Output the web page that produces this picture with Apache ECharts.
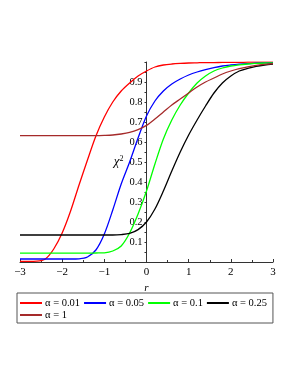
<!DOCTYPE html>
<html>
<head>
<meta charset="utf-8">
<script src="https://cdn.jsdelivr.net/npm/echarts@6/dist/echarts.min.js"></script>
<style>
html,body{margin:0;padding:0;background:#fff;}
#chart{width:298px;height:385px;}
</style>
</head>
<body>
<div id="chart"></div>
<script>
var rValues = [-3.0,-2.8,-2.6,-2.4,-2.2,-2.0,-1.8,-1.6,-1.4,-1.2,-1.0,-0.8,-0.6,-0.4,-0.2,0.0,0.2,0.4,0.6,0.8,1.0,1.2,1.4,1.6,1.8,2.0,2.2,2.4,2.6,2.8,3.0];
var seriesNames = ['α = 0.01','α = 0.05','α = 0.1','α = 0.25','α = 1'];
var seriesColors = ['#ff0000','#0000ff','#00ff00','#000000','#a52a2a'];
var alpha001 = [0.003,0.003,0.004,0.015,0.065,0.145,0.255,0.385,0.51,0.63,0.725,0.80,0.855,0.895,0.93,0.955,0.975,0.985,0.99,0.993,0.995,0.996,0.997,0.997,0.998,0.998,0.998,0.999,0.999,0.999,0.999];
var alpha005 = [0.015,0.015,0.015,0.015,0.015,0.015,0.015,0.016,0.025,0.06,0.14,0.26,0.39,0.50,0.62,0.73,0.805,0.855,0.89,0.915,0.935,0.95,0.962,0.972,0.98,0.985,0.989,0.992,0.994,0.996,0.997];
var alpha01 = [0.044,0.044,0.044,0.044,0.044,0.044,0.044,0.044,0.044,0.045,0.046,0.055,0.08,0.145,0.24,0.355,0.49,0.615,0.71,0.785,0.845,0.895,0.93,0.955,0.97,0.98,0.986,0.99,0.993,0.995,0.996];
var alpha025 = [0.135,0.135,0.135,0.135,0.135,0.135,0.135,0.135,0.135,0.135,0.135,0.135,0.137,0.143,0.162,0.20,0.265,0.355,0.455,0.55,0.635,0.71,0.78,0.845,0.895,0.93,0.955,0.968,0.978,0.985,0.99];
var alpha1 = [0.632,0.632,0.632,0.632,0.632,0.632,0.632,0.632,0.632,0.632,0.633,0.635,0.64,0.648,0.662,0.683,0.715,0.75,0.785,0.815,0.845,0.875,0.90,0.92,0.94,0.955,0.967,0.976,0.983,0.988,0.992];
var yTickLabels = ['0.1','0.2','0.3','0.4','0.5','0.6','0.7','0.8','0.9'];
var xTickLabels = ['−3','−2','−1','0','1','2','3'];

var allValues = [alpha001, alpha005, alpha01, alpha025, alpha1];
var serif = 'Liberation Serif';
var gridLeft = 20, gridRight = 25, chartW = 298;
var xMin = -3, xMax = 3;
// place the y axis at r = 0 by offsetting it from the grid's left edge
var yAxisOffset = -((0 - xMin) / (xMax - xMin)) * (chartW - gridLeft - gridRight);

var series = allValues.map(function (vals, i) {
  return {
    name: seriesNames[i],
    type: 'line',
    smooth: 0.3,
    symbol: 'none',
    color: seriesColors[i],
    lineStyle: {width: 1.3, color: seriesColors[i]},
    data: rValues.map(function (r, k) { return [r, vals[k]]; })
  };
});

var chart = echarts.init(document.getElementById('chart'), null, {renderer: 'canvas'});
chart.setOption({
  backgroundColor: '#ffffff',
  animation: false,
  grid: {left: gridLeft, right: gridRight, top: 62, bottom: 123, containLabel: false, outerBoundsMode: 'none'},
  legend: {
    data: seriesNames,
    left: 17,
    top: 293,
    width: 262,
    padding: [4, 2, 2, 3],
    itemGap: 0,
    itemWidth: 22,
    itemHeight: 2,
    icon: 'rect',
    borderColor: '#555555',
    borderWidth: 1,
    textStyle: {fontFamily: serif, fontSize: 10.5, lineHeight: 12, color: '#000', padding: [0, 4, 0, -2]}
  },
  xAxis: {
    type: 'value',
    min: xMin, max: xMax, interval: 1,
    name: 'r',
    nameLocation: 'middle',
    nameGap: 12,
    nameTextStyle: {fontFamily: serif, fontStyle: 'italic', fontSize: 11, color: '#000'},
    axisLine: {onZero: false, lineStyle: {color: '#333', width: 1}},
    axisTick: {show: true, inside: true, length: 3, lineStyle: {color: '#333'}},
    minorTick: {show: true, splitNumber: 2, length: 2, lineStyle: {color: '#333'}},
    splitLine: {show: false},
    axisLabel: {
      fontFamily: serif, fontSize: 11, color: '#000', margin: 5,
      formatter: function (v) { return xTickLabels[Math.round(v) - xMin]; }
    }
  },
  yAxis: {
    type: 'value',
    min: 0, max: 1, interval: 0.1,
    offset: yAxisOffset,
    name: '{c|χ}{s|2}',
    nameLocation: 'middle',
    nameRotate: 0,
    nameGap: 21,
    nameTextStyle: {
      rich: {
        c: {fontFamily: serif, fontStyle: 'italic', fontSize: 13, color: '#000'},
        s: {fontFamily: serif, fontSize: 8, color: '#000', padding: [0, 0, 7, 0]}
      }
    },
    axisLine: {onZero: false, lineStyle: {color: '#333', width: 1}},
    axisTick: {show: true, inside: false, length: 2, lineStyle: {color: '#333'}},
    minorTick: {show: true, splitNumber: 2, length: 2, lineStyle: {color: '#333'}},
    splitLine: {show: false},
    axisLabel: {
      fontFamily: serif, fontSize: 10.5, color: '#000', margin: 4,
      formatter: function (v) {
        var k = Math.round(v * 10);
        return (k >= 1 && k <= 9) ? yTickLabels[k - 1] : '';
      }
    }
  },
  series: series
});
</script>
</body>
</html>
